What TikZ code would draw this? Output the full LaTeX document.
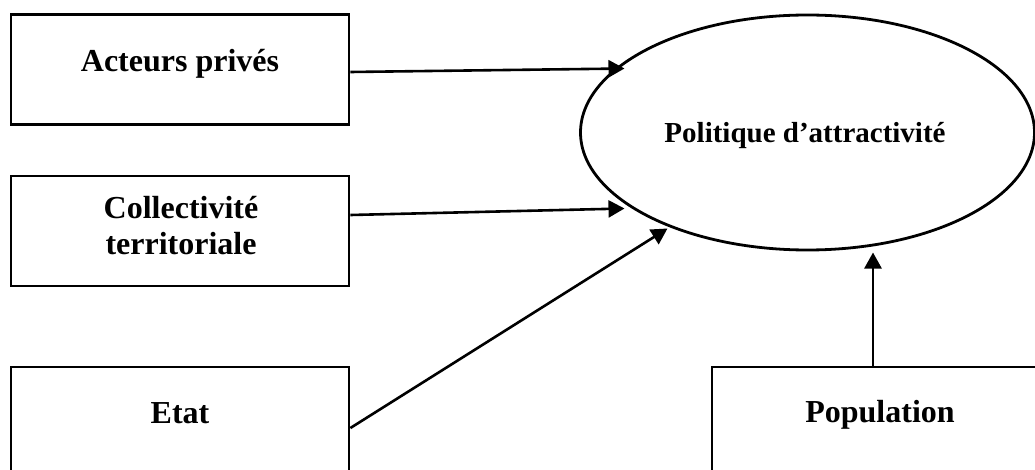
\documentclass[tikz,border=0pt]{standalone}
\usepackage{fontspec}
\setmainfont{Liberation Serif}
\usetikzlibrary{arrows.meta,shapes.geometric,calc}
\begin{document}
\begin{tikzpicture}[x=1pt,y=-1pt,
  frame/.style={draw,line width=2.8pt,minimum width=338pt,minimum height=110pt,inner sep=0pt},
  caption/.style={font=\bfseries\fontsize{32}{36}\selectfont,align=center,inner sep=0pt},
  link/.style={line width=2.6pt,-{Triangle[length=16pt,width=17pt]}}]
\useasboundingbox (0,0) rectangle (1035,470);
\clip (0,0) rectangle (1035,470);

% actor boxes
\node[frame] (acteurs) at (180,69.5) {};
\node[caption] (acteursT) at (180,64) {Acteurs privés};
\node[frame] (collect) at (180,231) {};
\node[caption] (collectT) at (181,226) {Collectivité\\territoriale};
\node[frame] (etat) at (180,422) {};
\node[caption] (etatT) at (180,413) {Etat};
\node[frame] (pop) at (881,422) {};
\node[caption] (popT) at (880,415) {Population};

% central policy
\node[draw,ellipse,line width=2.8pt,minimum width=454pt,minimum height=235pt,inner sep=0pt] (pol) at (807.5,132.5) {};
\node[caption,font=\bfseries\fontsize{29}{34}\selectfont] (polT) at (805,136) {Politique d’attractivité};

% influences
\draw[link] ([yshift=-2.5pt]acteurs.east) -- ($(pol.center)+(-183,-64)$);
\draw[link] ([yshift=16pt]collect.east) -- ($(pol.center)+(-183,76)$);
\draw[link] ([yshift=-6pt]etat.east) -- ($(pol.center)+(-140,96)$);
\draw[link] ([xshift=-8pt]pop.north) -- ($(pol.center)+(65.5,120)$);
\end{tikzpicture}
\end{document}
